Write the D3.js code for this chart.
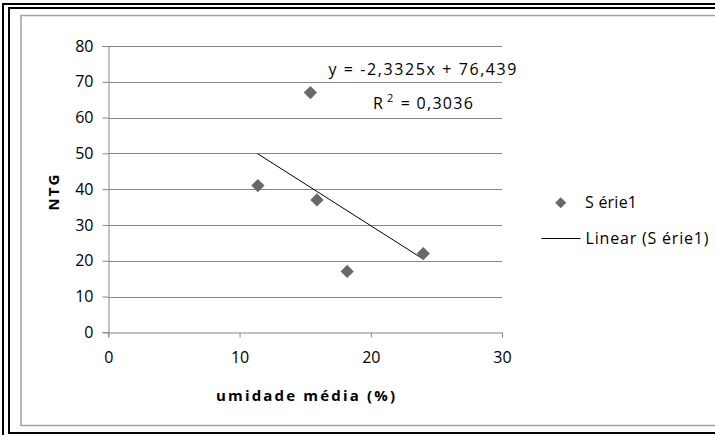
<!DOCTYPE html>
<html>
<head>
<meta charset="utf-8">
<script src="https://cdn.jsdelivr.net/npm/d3@7"></script>
<style>
  body { margin: 0; background: #fff; }
  text { font-family: "Open Sans", sans-serif; fill: #000; }
</style>
</head>
<body>
<div id="chart"></div>
<script>
// Data
const umidade = [11.4, 15.4, 15.9, 18.2, 24.0];
const ntg = [41, 67, 37, 17, 22];
const xTicks = [0, 10, 20, 30];
const yTicks = [0, 10, 20, 30, 40, 50, 60, 70, 80];
const trend = [-2.3325, 76.439]; // slope, intercept
const eqLabels = ["y = -2,3325x + 76,439", "0,3036"];
const legendLabels = ["S érie1", "Linear (S érie1)"];

const width = 715, height = 435;
const plot = { left: 108.3, right: 502, top: 46, bottom: 332.3 };

const svg = d3.select("#chart").append("svg")
  .attr("width", width)
  .attr("height", height);

// double black frame and the gray chart-area border
svg.append("rect").attr("x", 3).attr("y", 4).attr("width", 720).attr("height", 440)
  .attr("fill", "none").attr("stroke", "#000").attr("stroke-width", 2);
svg.append("rect").attr("x", 9).attr("y", 8).attr("width", 720).attr("height", 425)
  .attr("fill", "none").attr("stroke", "#000").attr("stroke-width", 2);
svg.append("rect").attr("x", 21).attr("y", 15.5).attr("width", 720).attr("height", 410)
  .attr("fill", "none").attr("stroke", "#a0a0a0").attr("stroke-width", 1.5);

const x = d3.scaleLinear().domain([0, 30]).range([plot.left, plot.right]);
const y = d3.scaleLinear().domain([0, 80]).range([plot.bottom, plot.top]);

// gridlines
svg.append("g")
  .selectAll("line")
  .data(yTicks.filter(d => d > 0))
  .enter()
  .append("line")
  .attr("x1", plot.left).attr("x2", plot.right)
  .attr("y1", d => Math.round(y(d)) + 0.5).attr("y2", d => Math.round(y(d)) + 0.5)
  .attr("stroke", "#868686");

// axes
const yAxis = svg.append("g")
  .attr("transform", `translate(${Math.round(plot.left) + 0.5},0)`)
  .call(d3.axisLeft(y).tickValues(yTicks).tickSize(6).tickPadding(9));
const xAxis = svg.append("g")
  .attr("transform", `translate(0,${Math.round(plot.bottom) + 0.5})`)
  .call(d3.axisBottom(x).tickValues(xTicks).tickSize(5).tickPadding(14));
[yAxis, xAxis].forEach(g => {
  g.select(".domain").attr("stroke", "#868686");
  g.selectAll(".tick line").attr("stroke", "#868686");
  g.selectAll("text").style("font-size", "16px").style("font-family", "'Open Sans', sans-serif");
});

// trend line
const xExt = d3.extent(umidade);
svg.append("line")
  .attr("x1", x(xExt[0])).attr("y1", y(trend[0] * xExt[0] + trend[1]))
  .attr("x2", x(xExt[1])).attr("y2", y(trend[0] * xExt[1] + trend[1]))
  .attr("stroke", "#000").attr("stroke-width", 1);

// points
const diamond = d3.symbol().type(d3.symbolSquare).size(88);
svg.append("g")
  .selectAll("path")
  .data(umidade.map((d, i) => [d, ntg[i]]))
  .enter()
  .append("path")
  .attr("d", diamond)
  .attr("transform", d => `translate(${x(d[0])},${y(d[1])}) rotate(45)`)
  .attr("fill", "#696969");

// equation labels
svg.append("text")
  .attr("x", 328.5).attr("y", 75)
  .attr("textLength", 188).attr("lengthAdjust", "spacing")
  .style("font-size", "16px")
  .text(eqLabels[0]);
const r2 = svg.append("text")
  .attr("x", 373).attr("y", 109)
  .style("font-size", "16px");
r2.append("tspan").text("R");
r2.append("tspan").attr("dy", -7).attr("dx", 4).style("font-size", "11px").text("2");
r2.append("tspan").attr("dy", 7).attr("dx", 2).attr("letter-spacing", "1.3px").text(" = " + eqLabels[1]);

// axis titles
svg.append("text")
  .attr("x", 305.5).attr("y", 401)
  .attr("text-anchor", "middle")
  .attr("textLength", 179).attr("lengthAdjust", "spacing")
  .style("font-size", "15px").style("font-weight", "bold")
  .text("umidade média (%)");
svg.append("text")
  .attr("transform", "translate(58.5,191.5) rotate(-90)")
  .attr("text-anchor", "middle")
  .attr("letter-spacing", "2px")
  .style("font-size", "15px").style("font-weight", "bold")
  .text("NTG");

// legend
const legend = svg.append("g");
legend.append("path")
  .attr("d", d3.symbol().type(d3.symbolSquare).size(62))
  .attr("transform", "translate(560.7,202.7) rotate(45)")
  .attr("fill", "#696969");
legend.append("text").attr("x", 585).attr("y", 208)
  .attr("textLength", 52).attr("lengthAdjust", "spacing")
  .style("font-size", "16px").text(legendLabels[0]);
legend.append("line")
  .attr("x1", 541.5).attr("x2", 580.5).attr("y1", 238.5).attr("y2", 238.5)
  .attr("stroke", "#000");
legend.append("text").attr("x", 585.5).attr("y", 244)
  .attr("textLength", 123).attr("lengthAdjust", "spacing")
  .style("font-size", "16px").text(legendLabels[1]);
</script>
</body>
</html>
